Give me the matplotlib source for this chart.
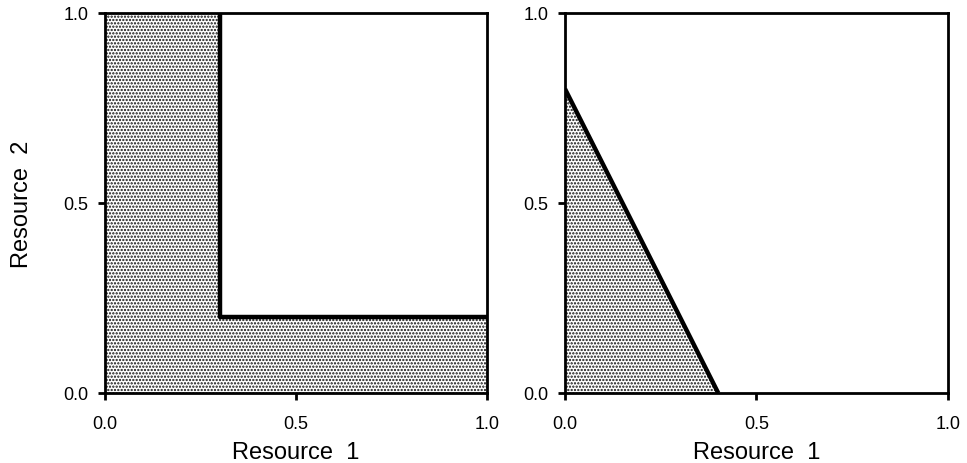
import matplotlib
matplotlib.use("Agg")
import matplotlib.pyplot as plt

plt.rcParams['font.family'] = ['Liberation Sans', 'DejaVu Sans']
plt.rcParams['hatch.linewidth'] = 1.1

# boundary of the feasible region, left panel (essential resources)
left_x = [0.0, 0.0, 0.3, 0.3, 1.0, 1.0]
left_y = [0.0, 1.0, 1.0, 0.2, 0.2, 0.0]
left_edge_x = [0.3, 0.3, 1.0]
left_edge_y = [1.0, 0.2, 0.2]

# right panel (substitutable resources)
right_x = [0.0, 0.0, 0.4]
right_y = [0.0, 0.8, 0.0]
right_edge_x = [0.0, 0.4]
right_edge_y = [0.8, 0.0]

ticks = [0.0, 0.5, 1.0]
tick_labels = ['0.0', '0.5', '1.0']

fig = plt.figure(figsize=(9.67, 4.64), dpi=100)
ax1 = fig.add_axes([0.1086, 0.1509, 0.395, 0.819])
ax2 = fig.add_axes([0.5843, 0.1509, 0.396, 0.819])

panels = [(ax1, left_x, left_y, left_edge_x, left_edge_y),
          (ax2, right_x, right_y, right_edge_x, right_edge_y)]

for ax, px, py, ex, ey in panels:
    ax.fill(px, py, facecolor='white', edgecolor='#111111', hatch='.....', lw=0)
    ax.plot(ex, ey, color='black', lw=3.2, solid_capstyle='butt')
    ax.set_xlim(0, 1)
    ax.set_ylim(0, 1)
    ax.set_xticks(ticks)
    ax.set_yticks(ticks)
    ax.set_xticklabels(tick_labels)
    ax.set_yticklabels(tick_labels)
    ax.tick_params(direction='out', length=5, width=2.0, labelsize=13)
    ax.tick_params(axis='x', pad=11)
    ax.tick_params(axis='y', pad=7)
    for s in ax.spines.values():
        s.set_linewidth(2.0)
    ax.set_xlabel('Resource  1', fontsize=17, labelpad=6)

ax1.set_ylabel('Resource  2', fontsize=17, labelpad=22)

fig.savefig('out.png', dpi=100)
